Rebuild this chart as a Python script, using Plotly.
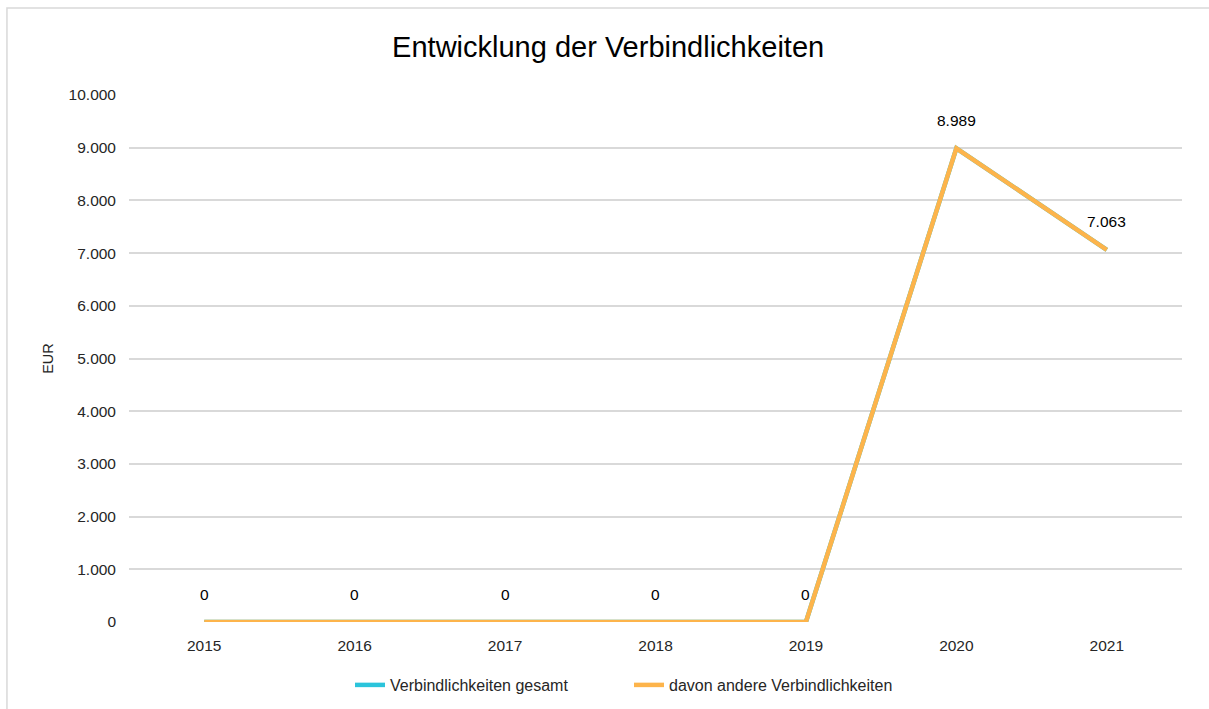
import plotly.graph_objects as go

years = ["2015", "2016", "2017", "2018", "2019", "2020", "2021"]
gesamt = [0, 0, 0, 0, 0, 8989, 7063]
andere = [0, 0, 0, 0, 0, 8989, 7063]
y_ticks = [0, 1000, 2000, 3000, 4000, 5000, 6000, 7000, 8000, 9000, 10000]

FONT = "Liberation Sans, Arial, sans-serif"

fig = go.Figure()
fig.add_trace(go.Scatter(x=years, y=gesamt, mode="lines", name="Verbindlichkeiten gesamt",
                         line=dict(color="#2BC4DB", width=4.5)))
fig.add_trace(go.Scatter(x=years, y=andere, mode="lines", name="davon andere Verbindlichkeiten",
                         line=dict(color="#FDB44B", width=4.5)))

for i, v in enumerate(gesamt):
    fig.add_annotation(x=i, y=v, xref="x", yref="y", text=f"{v:,}".replace(",", "."),
                       showarrow=False, yshift=28,
                       font=dict(family=FONT, size=15.5, color="#000000"))

fig.add_shape(type="rect", xref="paper", yref="paper", x0=-0.1159, x1=1.2, y0=-0.3, y1=1.165,
              line=dict(color="#D9D9D9", width=1.5), fillcolor="rgba(0,0,0,0)", layer="below")

fig.update_layout(
    width=1209, height=709,
    margin=dict(l=129, r=27, t=95, b=87),
    paper_bgcolor="white", plot_bgcolor="white",
    separators=",.",
    font=dict(family=FONT, size=15.5, color="#262626"),
    title=dict(text="Entwicklung der Verbindlichkeiten", x=0.503, xref="container", xanchor="center",
               y=1 - 47 / 709, yanchor="middle", font=dict(family=FONT, size=29, color="#000000")),
    xaxis=dict(type="category", range=[-0.5, 6.5], showgrid=False, showline=False, ticks="",
               ticklabelstandoff=12,
               tickfont=dict(family=FONT, size=15.5, color="#262626")),
    yaxis=dict(range=[0, 10000], tickvals=y_ticks, tickformat=",d", showgrid=True,
               gridcolor="#D9D9D9", gridwidth=1.5, zeroline=False, showline=False, ticks="",
               ticklabelstandoff=12,
               tickfont=dict(family=FONT, size=15.5, color="#262626"),
               title=dict(text="EUR", font=dict(family=FONT, size=14.5, color="#262626"), standoff=11)),
    legend=dict(orientation="h", xref="container", x=350 / 1209, xanchor="left", yref="container",
                y=1 - 685 / 709, yanchor="middle", font=dict(family=FONT, size=16, color="#262626"),
                entrywidth=234, entrywidthmode="pixels", tracegroupgap=0),
    showlegend=True,
)

fig.write_html("out.html", config={"displayModeBar": False},
               post_script="document.body.style.margin='0';document.body.style.overflow='hidden';")
